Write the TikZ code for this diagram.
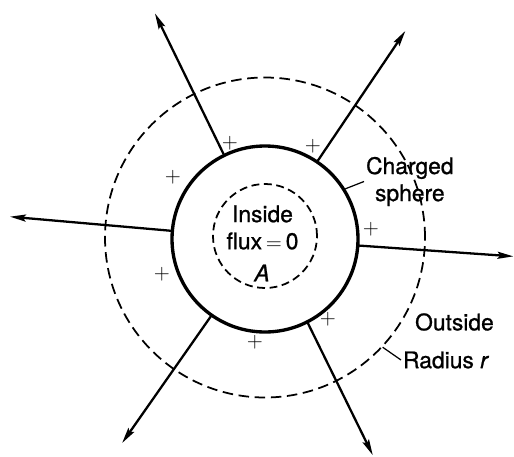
\documentclass[tikz,border=0pt]{standalone}
\usepackage{fontspec}
\setmainfont{TeX Gyre Heros}[FakeBold=0.9]
\newfontfamily\labelfont{TeX Gyre Heros}[FakeBold=0.9]
\usetikzlibrary{arrows.meta}

\begin{document}
\begin{tikzpicture}[
    sphere/.style={draw=black, circle, line width=1.9pt, minimum size=3.72cm,
        inner sep=0pt},
    surface/.style={draw=black, circle, line width=1.0pt, inner sep=0pt,
        dash pattern=on 6pt off 3.2pt},
    field line/.style={draw=black, line width=1.3pt, line cap=round,
        -{Stealth[length=9pt, width=4pt, inset=1.5pt]}},
    leader/.style={draw=black, line width=0.7pt},
    charge/.style={font=\large, inner sep=0pt},
    sphere label/.style={font=\labelfont\fontsize{13}{15.4}\selectfont,
        align=center, inner sep=1pt}
]
    \path[use as bounding box] (-5.30,-4.34) rectangle (4.98,4.78);

    % The Gaussian surfaces and the charged sphere.
    \node[surface, minimum size=6.40cm] (outer) at (0,0.03) {};
    \node[surface, minimum size=2.08cm, dash pattern=on 4.5pt off 2.6pt]
        (inner) at (0,0.06) {};
    \node[sphere] (ball) at (0,0) {};

    % Field lines leaving the sphere.
    \foreach \ang/\len in {116/5.02, 56/5.02, 175/5.12, -4/4.98,
                           235/4.98, -63.5/4.83}
        \draw[field line] (ball.\ang) -- (\ang:\len);

    % Surface charges.
    \node[charge] (q1) at (-0.70, 1.92) {$+$};
    \node[charge] (q2) at ( 0.96, 1.86) {$+$};
    \node[charge] (q3) at (-1.84, 1.24) {$+$};
    \node[charge] (q4) at ( 2.12, 0.20) {$+$};
    \node[charge] (q5) at (-2.06,-0.70) {$+$};
    \node[charge] (q6) at ( 1.26,-1.60) {$+$};
    \node[charge] (q7) at (-0.20,-2.06) {$+$};

    % Labels.
    \node[sphere label] (flux) at (-0.05, 0.23) {Inside\\flux\,$=$\,0};
    \node[sphere label] (pt) at (-0.06,-0.68) {\textit{A}};
    \node[sphere label, anchor=west] (chg) at (1.98, 1.15)
        {Charged\\sphere};
    \node[sphere label, anchor=west] (outs) at (2.96,-1.66) {Outside};
    \node[sphere label, anchor=west] (rad) at (2.72,-2.42)
        {Radius \textit{r}};

    \draw[leader] (ball.32) -- (chg.west);
    \draw[leader] (outer.-43.5) -- (rad.west);
\end{tikzpicture}
\end{document}
